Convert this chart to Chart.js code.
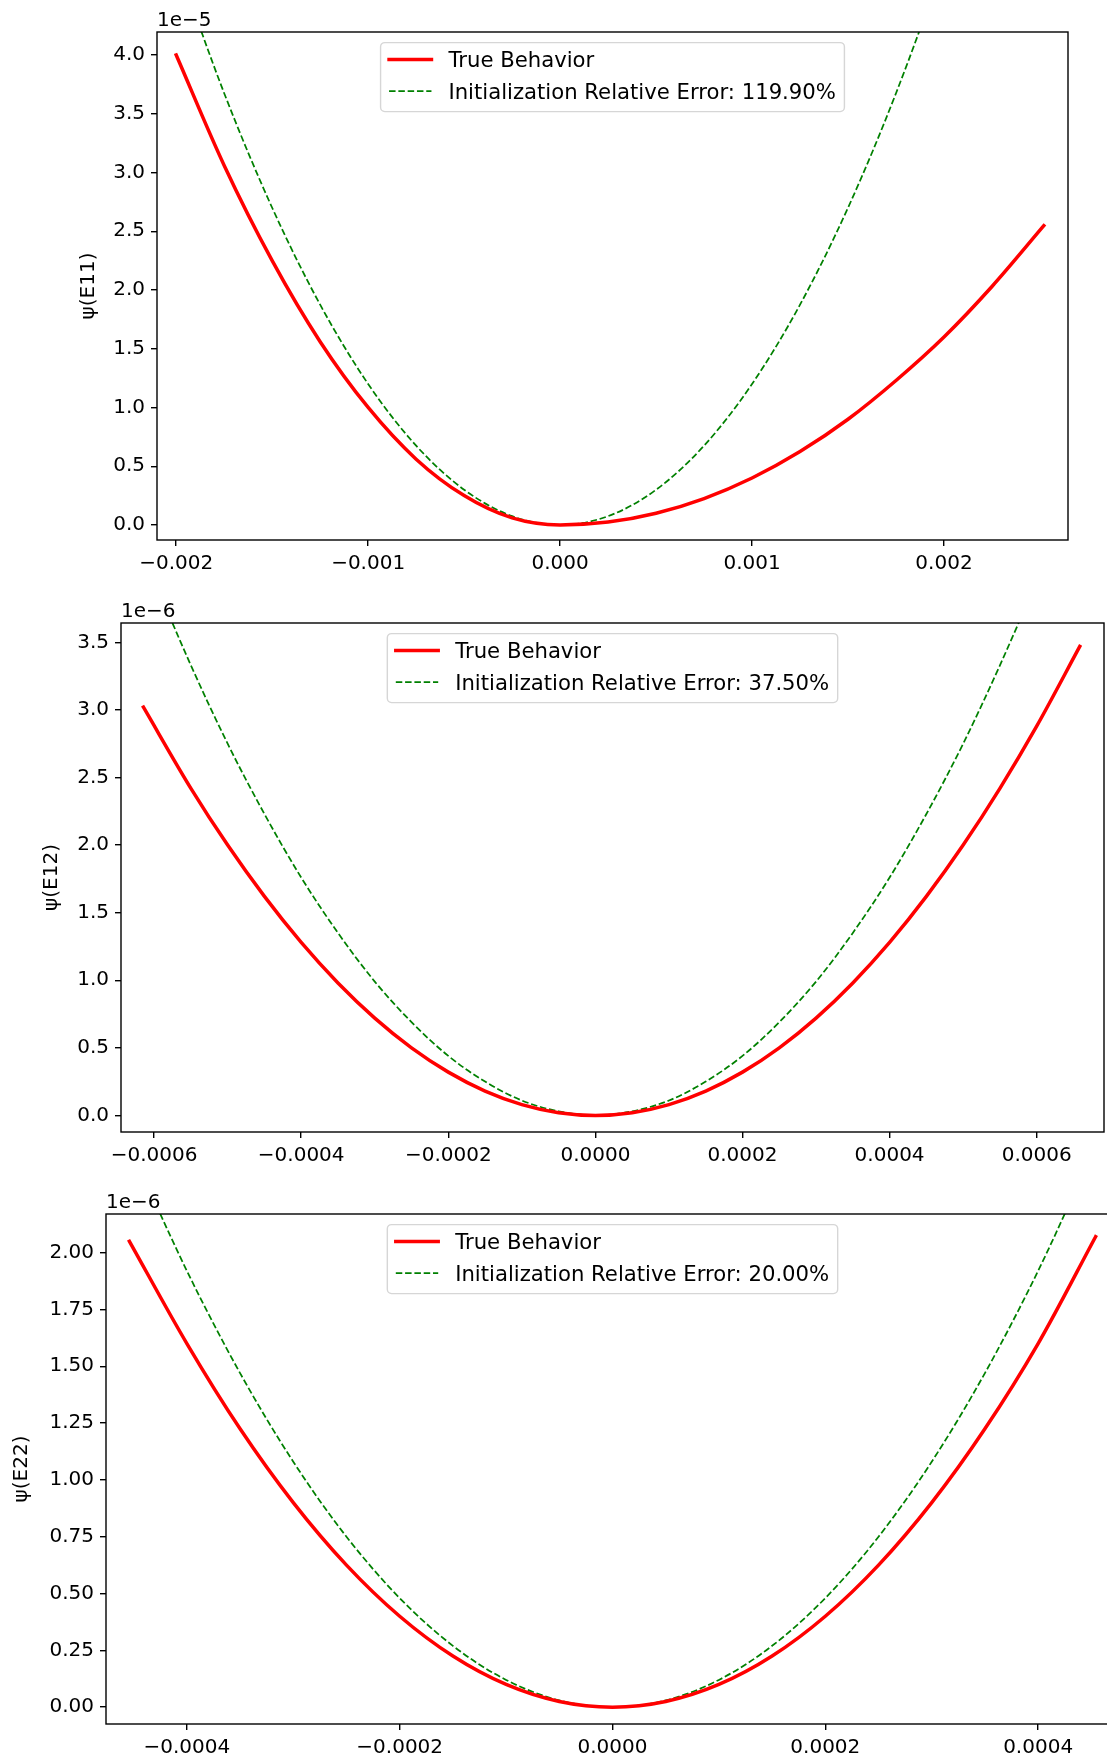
<!DOCTYPE html>
<html>
<head>
<meta charset="utf-8">
<script src="https://cdn.jsdelivr.net/npm/chart.js@4.4.1/dist/chart.umd.min.js"></script>
<style>
  html, body { margin:0; padding:0; background:#ffffff; overflow:hidden; width:1107px; height:1760px; }
  canvas { position:absolute; left:0; top:0; }
</style>
</head>
<body>
<canvas id="c1" width="1107" height="1760"></canvas>
<canvas id="c2" width="1107" height="1760"></canvas>
<canvas id="c3" width="1130" height="1760"></canvas>
<script>
// ---------------- DATA ----------------
const seriesLabels = ['True Behavior'];
const errLabels = ['Initialization Relative Error: 119.90%', 'Initialization Relative Error: 37.50%', 'Initialization Relative Error: 20.00%'];
const yLabels = ['\u03c8(E11)', '\u03c8(E12)', '\u03c8(E22)'];
const offsetTexts = ['1e\u22125', '1e\u22126', '1e\u22126'];

// Panel 1: psi(E11)
const e11X = [-0.002, -0.00175, -0.0015, -0.00125, -0.001, -0.00075, -0.0005, -0.00025, 0, 0.00025, 0.0005, 0.00075, 0.001, 0.00125, 0.0015, 0.00175, 0.002, 0.00225, 0.00252];
const e11True = [4.00e-5, 3.06e-5, 2.25e-5, 1.56e-5, 1.00e-5, 0.56e-5, 0.25e-5, 0.06e-5, 0, 0.025e-5, 0.10e-5, 0.225e-5, 0.40e-5, 0.625e-5, 0.90e-5, 1.23e-5, 1.60e-5, 2.03e-5, 2.547e-5];
const e11Init = [4.80e-5, 3.675e-5, 2.70e-5, 1.875e-5, 1.20e-5, 0.675e-5, 0.30e-5, 0.075e-5, 0, 0.075e-5, 0.30e-5, 0.675e-5, 1.20e-5, 1.875e-5, 2.70e-5, 3.675e-5, 4.80e-5, 6.075e-5, 7.62e-5];
const e11XTicks = [-0.002, -0.001, 0, 0.001, 0.002];
const e11YTicks = [0, 0.5e-5, 1.0e-5, 1.5e-5, 2.0e-5, 2.5e-5, 3.0e-5, 3.5e-5, 4.0e-5];

// Panel 2: psi(E12)
const e12X = [-6.145e-4, -5.5e-4, -5e-4, -4.5e-4, -4e-4, -3.5e-4, -3e-4, -2.5e-4, -2e-4, -1.5e-4, -1e-4, -0.5e-4, 0, 0.5e-4, 1e-4, 1.5e-4, 2e-4, 2.5e-4, 3e-4, 3.5e-4, 4e-4, 4.5e-4, 5e-4, 5.5e-4, 6e-4, 6.586e-4];
const e12True = [3.02e-6, 2.42e-6, 2.00e-6, 1.62e-6, 1.28e-6, 0.98e-6, 0.72e-6, 0.50e-6, 0.32e-6, 0.18e-6, 0.08e-6, 0.02e-6, 0, 0.02e-6, 0.08e-6, 0.18e-6, 0.32e-6, 0.50e-6, 0.72e-6, 0.98e-6, 1.28e-6, 1.62e-6, 2.00e-6, 2.42e-6, 2.88e-6, 3.47e-6];
const e12Init = [4.15e-6, 3.33e-6, 2.75e-6, 2.23e-6, 1.76e-6, 1.35e-6, 0.99e-6, 0.69e-6, 0.44e-6, 0.25e-6, 0.11e-6, 0.03e-6, 0, 0.03e-6, 0.11e-6, 0.25e-6, 0.44e-6, 0.69e-6, 0.99e-6, 1.35e-6, 1.76e-6, 2.23e-6, 2.75e-6, 3.33e-6, 3.96e-6, 4.77e-6];
const e12XTicks = [-0.0006, -0.0004, -0.0002, 0, 0.0002, 0.0004, 0.0006];
const e12YTicks = [0, 0.5e-6, 1.0e-6, 1.5e-6, 2.0e-6, 2.5e-6, 3.0e-6, 3.5e-6];

// Panel 3: psi(E22)
const e22X = [-4.54e-4, -4e-4, -3.5e-4, -3e-4, -2.5e-4, -2e-4, -1.5e-4, -1e-4, -0.5e-4, 0, 0.5e-4, 1e-4, 1.5e-4, 2e-4, 2.5e-4, 3e-4, 3.5e-4, 4e-4, 4.54e-4];
const e22True = [2.05e-6, 1.60e-6, 1.225e-6, 0.90e-6, 0.625e-6, 0.40e-6, 0.225e-6, 0.10e-6, 0.025e-6, 0, 0.025e-6, 0.10e-6, 0.225e-6, 0.40e-6, 0.625e-6, 0.90e-6, 1.225e-6, 1.60e-6, 2.07e-6];
const e22Init = [2.47e-6, 1.92e-6, 1.47e-6, 1.08e-6, 0.75e-6, 0.48e-6, 0.27e-6, 0.12e-6, 0.03e-6, 0, 0.03e-6, 0.12e-6, 0.27e-6, 0.48e-6, 0.75e-6, 1.08e-6, 1.47e-6, 1.92e-6, 2.47e-6];
const e22XTicks = [-0.0004, -0.0002, 0, 0.0002, 0.0004];
const e22YTicks = [0, 0.25e-6, 0.5e-6, 0.75e-6, 1.0e-6, 1.25e-6, 1.5e-6, 1.75e-6, 2.0e-6];

// ---------------- STYLE / LAYOUT ----------------
const FONT = '"DejaVu Sans", "Liberation Sans", sans-serif';
const FS = 20;       // tick / label font size
const LFS = 21.2;    // legend font size

const fmtMinus = s => s.replace('-', '\u2212');

const mplPlugin = {
  id: 'mpl',
  afterDatasetsDraw(chart, args, o) {
    const {ctx, chartArea: a} = chart;
    ctx.save();
    // spines
    ctx.lineWidth = 1.4;
    ctx.strokeStyle = '#000';
    ctx.setLineDash([]);
    ctx.strokeRect(a.left, a.top, a.right - a.left, a.bottom - a.top);
    // offset text
    ctx.fillStyle = '#000';
    ctx.font = FS + 'px ' + FONT;
    ctx.textAlign = 'left';
    ctx.textBaseline = 'alphabetic';
    ctx.fillText(o.offsetText, a.left, a.top - 6);
    // legend
    ctx.font = LFS + 'px ' + FONT;
    const ds = chart.data.datasets;
    const tw = Math.max(...ds.map(d => ctx.measureText(d.label).width));
    const pad = 0.4 * LFS, hl = 2 * LFS, htp = 0.8 * LFS;
    const w = 2 * pad + hl + htp + tw;
    const h = 69;
    const cx = (a.left + a.right) / 2;
    const x0 = cx - w / 2, y0 = a.top + 0.5 * LFS;
    const r = 0.2 * LFS;
    ctx.beginPath();
    ctx.moveTo(x0 + r, y0);
    ctx.lineTo(x0 + w - r, y0);
    ctx.arcTo(x0 + w, y0, x0 + w, y0 + r, r);
    ctx.lineTo(x0 + w, y0 + h - r);
    ctx.arcTo(x0 + w, y0 + h, x0 + w - r, y0 + h, r);
    ctx.lineTo(x0 + r, y0 + h);
    ctx.arcTo(x0, y0 + h, x0, y0 + h - r, r);
    ctx.lineTo(x0, y0 + r);
    ctx.arcTo(x0, y0, x0 + r, y0, r);
    ctx.closePath();
    ctx.fillStyle = 'rgba(255,255,255,0.8)';
    ctx.fill();
    ctx.strokeStyle = 'rgba(204,204,204,0.8)';
    ctx.lineWidth = 1.4;
    ctx.stroke();
    ds.forEach((d, i) => {
      const yc = y0 + 17 + i * 31.4;
      ctx.beginPath();
      ctx.setLineDash(d.borderDash || []);
      ctx.lineCap = d.borderDash ? 'butt' : 'square';
      ctx.lineWidth = d.borderWidth;
      ctx.strokeStyle = d.borderColor;
      ctx.moveTo(x0 + pad, yc);
      ctx.lineTo(x0 + pad + hl, yc);
      ctx.stroke();
      ctx.setLineDash([]);
      ctx.fillStyle = '#000';
      ctx.textAlign = 'left';
      ctx.textBaseline = 'alphabetic';
      ctx.fillText(d.label, x0 + pad + hl + htp, y0 + 24.5 + i * 31.4);
    });
    ctx.restore();
  }
};

function makePanel(id, p) {
  const canvas = document.getElementById(id);
  const W = canvas.width, H = canvas.height;
  const XH = 60;
  const pts = (xs, ys) => xs.map((x, i) => ({x: x, y: ys[i]}));
  const tickGrid = {
    display: true, drawOnChartArea: false, drawTicks: true,
    tickLength: 6, tickWidth: 1.4, tickColor: '#000', color: 'rgba(0,0,0,0)', lineWidth: 1.4
  };
  return new Chart(canvas, {
    type: 'line',
    data: {
      datasets: [
        { label: seriesLabels[0], data: pts(p.x, p.yTrue), borderColor: '#ff0000', borderWidth: 3.5,
          pointRadius: 0, fill: false, cubicInterpolationMode: 'monotone', borderCapStyle: 'square', borderJoinStyle: 'round' },
        { label: p.errLabel, data: pts(p.x, p.yInit), borderColor: '#008000', borderWidth: 1.75, borderDash: [6.5, 2.8],
          pointRadius: 0, fill: false, cubicInterpolationMode: 'monotone', borderCapStyle: 'butt', borderJoinStyle: 'round' }
      ]
    },
    options: {
      responsive: false, maintainAspectRatio: false, animation: false, events: [],
      layout: { padding: { left: p.padLeft, top: p.area.top, right: W - p.area.right, bottom: H - p.area.bottom - XH } },
      plugins: { legend: { display: false }, tooltip: { enabled: false }, mpl: { offsetText: p.offsetText } },
      scales: {
        x: {
          type: 'linear', position: 'bottom', min: p.xMin, max: p.xMax,
          afterFit: s => { s.height = XH; },
          afterBuildTicks: s => { s.ticks = p.xTicks.map(v => ({value: v})); },
          ticks: { autoSkip: false, maxRotation: 0, minRotation: 0, padding: 6, color: '#000',
                   font: { family: FONT, size: FS }, callback: v => fmtMinus(v.toFixed(p.xDec)) },
          grid: tickGrid, border: { display: false }
        },
        y: {
          type: 'linear', position: 'left', min: p.yMin, max: p.yMax,
          afterFit: s => { s.width = p.area.left - p.padLeft; },
          afterBuildTicks: s => { s.ticks = p.yTicks.map(v => ({value: v})); },
          ticks: { autoSkip: false, padding: 6, color: '#000',
                   font: { family: FONT, size: FS }, callback: v => (v / p.yScale).toFixed(p.yDec) },
          grid: tickGrid, border: { display: false },
          title: { display: true, text: p.yLabel, color: '#000', font: { family: FONT, size: FS }, padding: { top: 0, bottom: 0 } }
        }
      }
    },
    plugins: [mplPlugin]
  });
}

makePanel('c1', {
  x: e11X, yTrue: e11True, yInit: e11Init, errLabel: errLabels[0], yLabel: yLabels[0], offsetText: offsetTexts[0],
  area: { left: 157, top: 32, right: 1068, bottom: 540 }, padLeft: 77,
  xMin: -0.0021, xMax: 0.002646, yMin: -0.128e-5, yMax: 4.196e-5,
  xTicks: e11XTicks, yTicks: e11YTicks, xDec: 3, yDec: 1, yScale: 1e-5
});
makePanel('c2', {
  x: e12X, yTrue: e12True, yInit: e12Init, errLabel: errLabels[1], yLabel: yLabels[1], offsetText: offsetTexts[1],
  area: { left: 121, top: 623, right: 1104, bottom: 1132 }, padLeft: 40,
  xMin: -0.000645, xMax: 0.0006915, yMin: -0.123e-6, yMax: 3.643e-6,
  xTicks: e12XTicks, yTicks: e12YTicks, xDec: 4, yDec: 1, yScale: 1e-6
});
makePanel('c3', {
  x: e22X, yTrue: e22True, yInit: e22Init, errLabel: errLabels[2], yLabel: yLabels[2], offsetText: offsetTexts[2],
  area: { left: 106, top: 1214, right: 1119, bottom: 1724 }, padLeft: 10,
  xMin: -0.000476, xMax: 0.000476, yMin: -0.074e-6, yMax: 2.170e-6,
  xTicks: e22XTicks, yTicks: e22YTicks, xDec: 4, yDec: 2, yScale: 1e-6
});
</script>
</body>
</html>
